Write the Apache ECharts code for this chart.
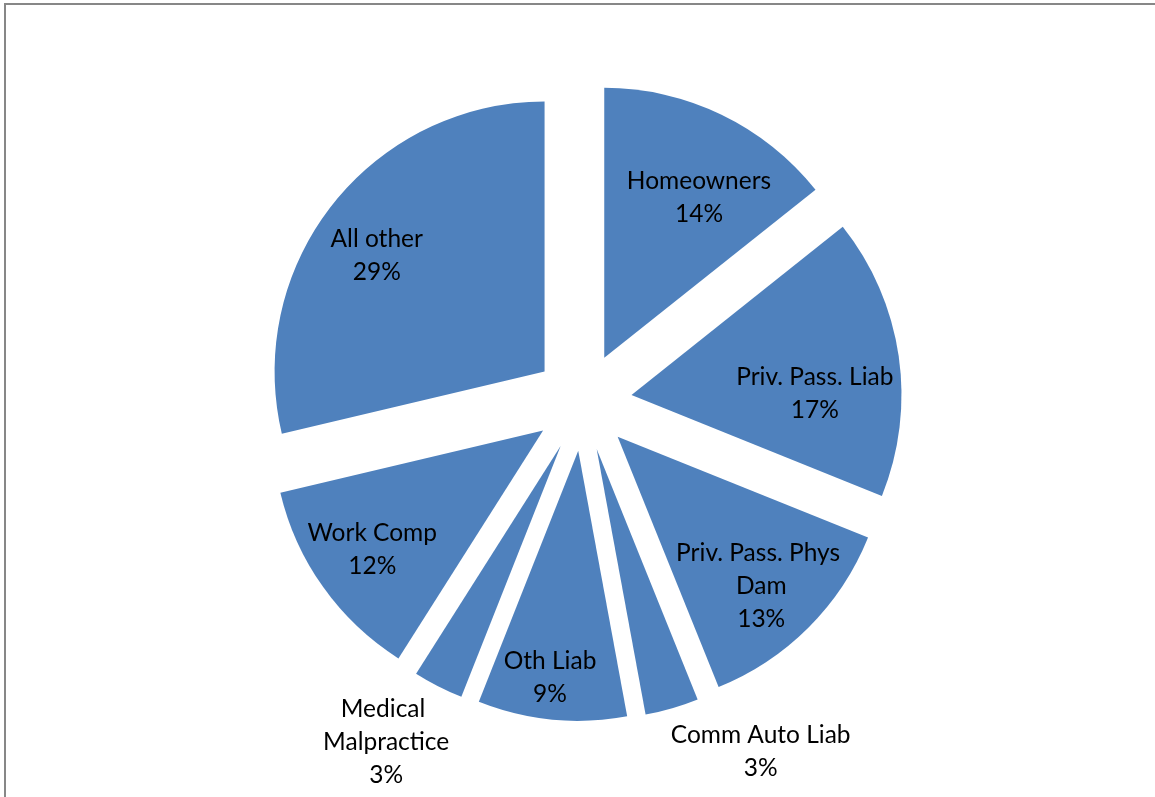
<!DOCTYPE html>
<html>
<head>
<meta charset="utf-8">
<script src="https://cdn.jsdelivr.net/npm/echarts@6/dist/echarts.min.js"></script>
<style>
    html, body { margin: 0; padding: 0; background: #fff; }
    #main { width: 1155px; height: 797px; }
</style>
</head>
<body>
<div id="main"></div>
<script>
var categories = ['Homeowners', 'Priv. Pass. Liab', 'Priv. Pass. Phys Dam', 'Comm Auto Liab',
    'Oth Liab', 'Medical Malpractice', 'Work Comp', 'All other'];
var shares = [14.3, 16.8, 12.8, 3.2, 8.9, 3.0, 12.3, 28.7];
var outsideNames = ['Comm Auto Liab', 'Medical Malpractice'];

var center = [583, 402];
var radius = 270;
var explode = 49;
// small nudges (px) from the radial label spot, to sit like the original
var labelNudge = [[9, 18], [-12, 27], [4, 10], [69, -24], [-9, 30], [-20, -7], [-10, 5], [-13, 6]];

function showPie() {
    var myChart = echarts.init(document.getElementById('main'));

    var total = 0;
    for (var i = 0; i < shares.length; i++) total += shares[i];
    var mid = [];
    var acc = 0;
    for (var i = 0; i < shares.length; i++) {
        mid.push((acc + shares[i] / 2) / total * Math.PI * 2);
        acc += shares[i];
    }

    var data = [];
    for (var i = 0; i < categories.length; i++) {
        var e = {
            name: categories[i],
            value: shares[i],
            selected: true
        };
        if (categories[i] == 'Priv. Pass. Phys Dam') {
            e.label = { width: 190, overflow: 'break' };
        }
        if (categories[i] == 'Medical Malpractice') {
            e.label = { width: 140, overflow: 'break' };
        }
        data.push(e);
    }

    var option = {
        animation: false,
        graphic: [{
            type: 'rect',
            shape: { x: 5, y: 4, width: 1300, height: 1000 },
            style: { fill: null, stroke: '#878787', lineWidth: 2 },
            silent: true
        }],
        series: [{
            type: 'pie',
            center: center,
            radius: radius,
            startAngle: 90,
            clockwise: true,
            selectedMode: 'multiple',
            selectedOffset: explode,
            avoidLabelOverlap: false,
            itemStyle: { color: '#4F81BD', borderWidth: 0 },
            emphasis: { disabled: true },
            labelLine: { show: false },
            label: {
                show: true,
                position: 'inside',
                color: '#000',
                fontFamily: 'Lato, "Liberation Sans", sans-serif',
                fontSize: 24.5,
                lineHeight: 33,
                align: 'center',
                formatter: function (p) {
                    return p.name + '\n' + Math.round(p.percent) + '%';
                }
            },
            // inside labels sit at half radius; push them out along the slice middle
            labelLayout: function (p) {
                var i = p.dataIndex;
                var f = outsideNames.indexOf(categories[i]) >= 0 ? 1.25 : 0.72;
                var push = (f - 0.5) * radius;
                return {
                    dx: push * Math.sin(mid[i]) + labelNudge[i][0],
                    dy: -push * Math.cos(mid[i]) + labelNudge[i][1]
                };
            },
            data: data
        }]
    };

    myChart.setOption(option);
}

showPie();
</script>
</body>
</html>
